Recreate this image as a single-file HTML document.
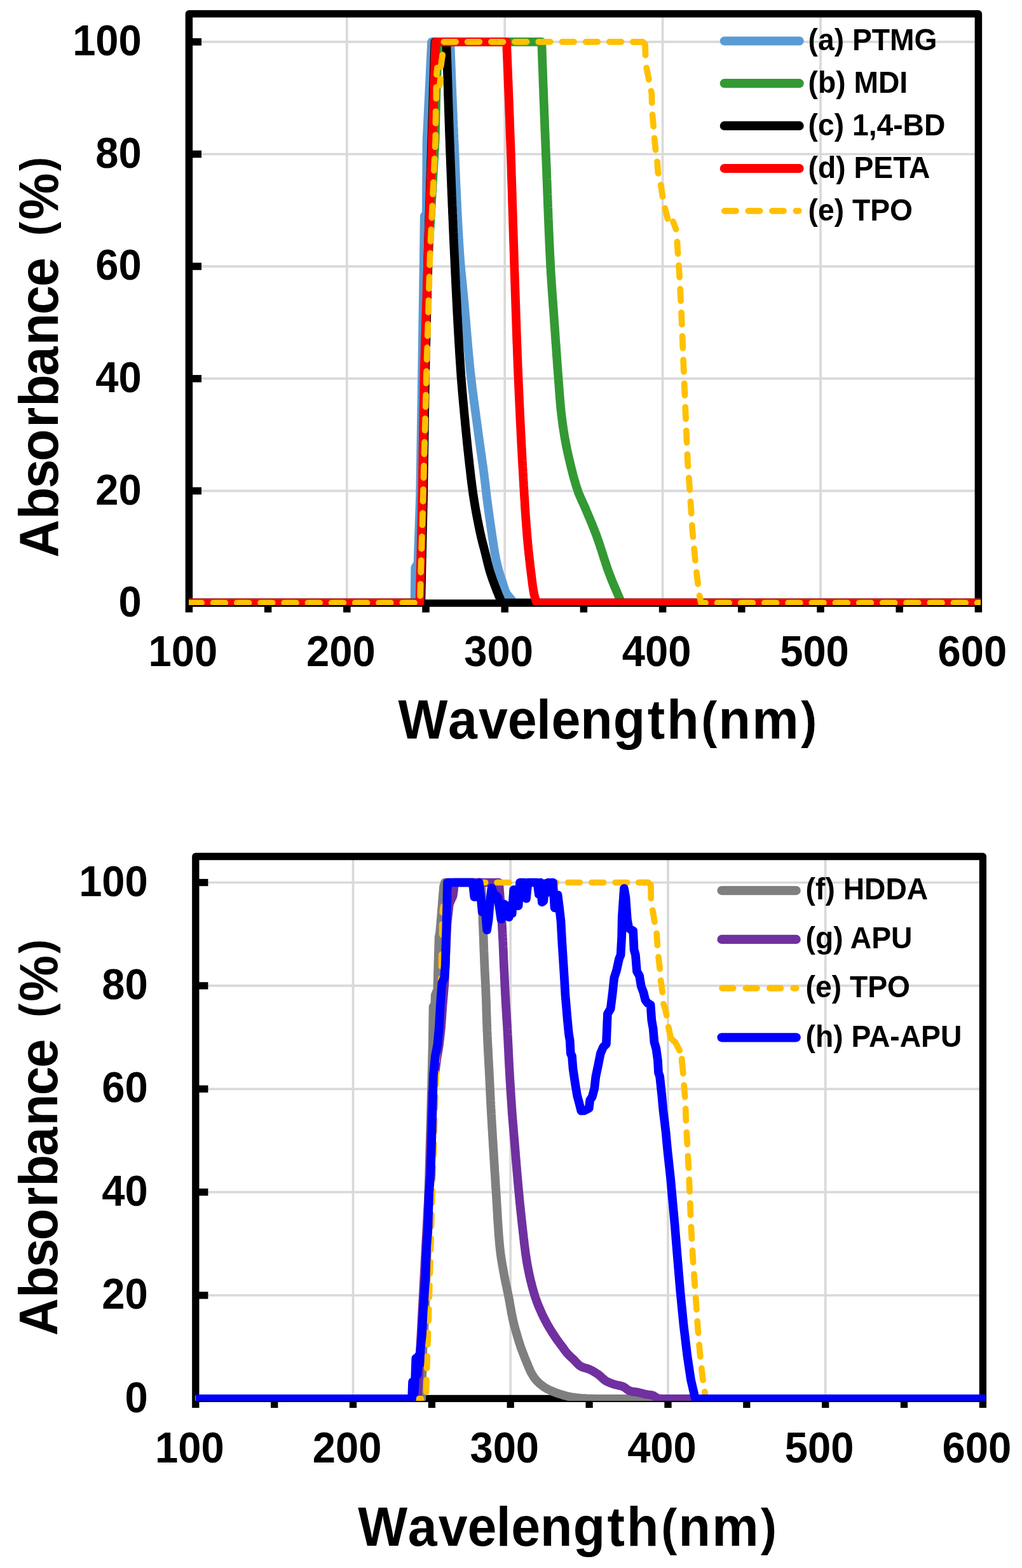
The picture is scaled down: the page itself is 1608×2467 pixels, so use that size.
<!DOCTYPE html>
<html lang="en">
<head>
<meta charset="utf-8">
<title>Absorbance spectra</title>
<style>
html,body{margin:0;padding:0;background:#fff;}
body{width:1608px;height:2467px;overflow:hidden;}
svg{display:block;}
text{white-space:pre;}
</style>
</head>
<body>
<svg width="1608" height="2467" viewBox="0 0 1608 2467">
<rect width="1608" height="2467" fill="#fff"/>
<g id="chart1">
<g stroke="#d9d9d9" stroke-width="3.7" fill="none">
<line x1="297.4" y1="772.3" x2="1539.4" y2="772.3"/>
<line x1="297.4" y1="595.7" x2="1539.4" y2="595.7"/>
<line x1="297.4" y1="419.1" x2="1539.4" y2="419.1"/>
<line x1="297.4" y1="242.5" x2="1539.4" y2="242.5"/>
<line x1="297.4" y1="65.9" x2="1539.4" y2="65.9"/>
<line x1="545.8" y1="21.8" x2="545.8" y2="948.9"/>
<line x1="794.2" y1="21.8" x2="794.2" y2="948.9"/>
<line x1="1042.6" y1="21.8" x2="1042.6" y2="948.9"/>
<line x1="1291.0" y1="21.8" x2="1291.0" y2="948.9"/>
</g>
<g stroke="#000" stroke-width="11.5" fill="none">
<path stroke-linejoin="round" d="M297.4,963.6 L297.4,21.8 L1539.4,21.8 L1539.4,963.6"/>
<line x1="297.4" y1="948.9" x2="1539.4" y2="948.9"/>
<line x1="421.6" y1="948.9" x2="421.6" y2="963.6"/>
<line x1="545.8" y1="948.9" x2="545.8" y2="963.6"/>
<line x1="670.0" y1="948.9" x2="670.0" y2="963.6"/>
<line x1="794.2" y1="948.9" x2="794.2" y2="963.6"/>
<line x1="918.4" y1="948.9" x2="918.4" y2="963.6"/>
<line x1="1042.6" y1="948.9" x2="1042.6" y2="963.6"/>
<line x1="1166.8" y1="948.9" x2="1166.8" y2="963.6"/>
<line x1="1291.0" y1="948.9" x2="1291.0" y2="963.6"/>
<line x1="1415.2" y1="948.9" x2="1415.2" y2="963.6"/>
<line x1="297.4" y1="772.3" x2="317.0" y2="772.3"/>
<line x1="297.4" y1="595.7" x2="317.0" y2="595.7"/>
<line x1="297.4" y1="419.1" x2="317.0" y2="419.1"/>
<line x1="297.4" y1="242.5" x2="317.0" y2="242.5"/>
<line x1="297.4" y1="65.9" x2="317.0" y2="65.9"/>
</g>
<clipPath id="clip1"><rect x="297" y="-19" width="1246" height="971"/></clipPath>
<g clip-path="url(#clip1)" fill="none" stroke-linejoin="round" stroke-linecap="butt">
<path d="M297.4,948.5 L652.5,948.5 L653.2,893.0 L657.5,886.0 L661.1,780.0 L664.2,580.0 L666.9,400.0 L667.7,340.0 L670.8,335.0 L671.6,220.0 L679.1,65.9 L708.4,65.9 L708.5,68.9 L708.6,71.9 L708.7,74.9 L708.8,77.9 L708.9,80.9 L709.0,83.9 L709.1,86.9 L709.2,89.8 L709.3,92.8 L709.4,95.8 L709.6,98.8 L709.7,101.8 L709.8,104.8 L709.9,107.8 L710.0,110.8 L710.1,113.8 L710.2,116.8 L710.3,119.8 L710.5,122.8 L710.6,125.8 L710.7,128.8 L710.8,131.8 L710.9,134.8 L711.0,137.7 L711.2,140.7 L711.3,143.7 L711.4,146.7 L711.5,149.7 L711.6,152.7 L711.8,155.7 L711.9,158.7 L712.0,161.7 L712.1,164.7 L712.3,167.7 L712.4,170.7 L712.5,173.7 L712.6,176.7 L712.8,179.6 L712.9,182.6 L713.0,185.6 L713.1,188.6 L713.3,191.6 L713.4,194.6 L713.5,197.6 L713.7,200.6 L713.8,203.6 L713.9,206.6 L714.0,209.6 L714.2,212.6 L714.3,215.6 L714.4,218.6 L714.6,221.5 L714.7,224.5 L714.8,227.5 L715.0,230.5 L715.1,233.5 L715.2,236.5 L715.3,239.5 L715.5,242.5 L715.6,245.5 L715.7,248.5 L715.9,251.5 L716.0,254.5 L716.1,257.5 L716.2,260.5 L716.4,263.5 L716.5,266.4 L716.6,269.4 L716.8,272.4 L716.9,275.4 L717.0,278.4 L717.1,281.4 L717.3,284.4 L717.4,287.4 L717.5,290.4 L717.7,293.4 L717.8,296.4 L717.9,299.4 L718.1,302.4 L718.2,305.4 L718.4,308.4 L718.5,311.3 L718.6,314.3 L718.8,317.3 L718.9,320.3 L719.1,323.3 L719.2,326.3 L719.4,329.3 L719.5,332.3 L719.7,335.3 L719.8,338.3 L720.0,341.3 L720.1,344.3 L720.3,347.3 L720.4,350.2 L720.6,353.2 L720.7,356.2 L720.9,359.2 L721.1,362.2 L721.3,365.2 L721.4,368.2 L721.6,371.2 L721.8,374.2 L721.9,377.2 L722.1,380.1 L722.3,383.1 L722.5,386.1 L722.7,389.1 L722.9,392.1 L723.1,395.1 L723.3,398.1 L723.5,401.1 L723.7,404.0 L723.9,407.0 L724.1,410.0 L724.4,413.0 L724.6,416.0 L724.9,419.0 L725.2,421.9 L725.4,424.9 L725.7,427.9 L726.0,430.9 L726.3,433.9 L726.6,436.9 L726.9,439.8 L727.2,442.8 L727.5,445.8 L727.8,448.8 L728.1,451.8 L728.4,454.8 L728.7,457.7 L728.9,460.7 L729.2,463.7 L729.5,466.7 L729.8,469.7 L730.1,472.6 L730.4,475.6 L730.6,478.6 L730.9,481.6 L731.2,484.6 L731.4,487.6 L731.7,490.5 L731.9,493.5 L732.2,496.5 L732.5,499.5 L732.7,502.5 L733.0,505.5 L733.2,508.5 L733.4,511.4 L733.7,514.4 L733.9,517.4 L734.2,520.4 L734.4,523.4 L734.7,526.4 L734.9,529.4 L735.2,532.3 L735.4,535.3 L735.7,538.3 L736.0,541.3 L736.2,544.3 L736.5,547.3 L736.7,550.3 L737.0,553.2 L737.3,556.2 L737.6,559.2 L737.8,562.2 L738.1,565.2 L738.4,568.1 L738.7,571.1 L739.0,574.1 L739.3,577.1 L739.6,580.1 L739.9,583.0 L740.2,586.0 L740.6,589.0 L740.9,592.0 L741.3,594.9 L741.6,597.9 L742.0,600.9 L742.3,603.9 L742.7,606.8 L743.0,609.8 L743.4,612.8 L743.8,615.8 L744.2,618.7 L744.6,621.7 L745.0,624.7 L745.3,627.6 L745.7,630.6 L746.1,633.6 L746.5,636.6 L746.9,639.5 L747.3,642.5 L747.7,645.5 L748.1,648.4 L748.5,651.4 L748.9,654.4 L749.3,657.3 L749.7,660.3 L750.1,663.3 L750.5,666.2 L750.9,669.2 L751.3,672.2 L751.7,675.2 L752.1,678.1 L752.5,681.1 L752.9,684.1 L753.3,687.0 L753.7,690.0 L754.1,693.0 L754.5,695.9 L755.0,698.9 L755.4,701.9 L755.8,704.8 L756.2,707.8 L756.6,710.8 L757.1,713.7 L757.5,716.7 L757.9,719.7 L758.3,722.6 L758.7,725.6 L759.2,728.6 L759.6,731.5 L760.0,734.5 L760.4,737.5 L760.8,740.4 L761.2,743.4 L761.6,746.4 L762.0,749.3 L762.3,752.3 L762.7,755.3 L763.1,758.3 L763.4,761.2 L763.8,764.2 L764.1,767.2 L764.5,770.2 L764.8,773.1 L765.1,776.1 L765.5,779.1 L765.9,782.1 L766.2,785.0 L766.6,788.0 L767.0,791.0 L767.4,793.9 L767.8,796.9 L768.2,799.9 L768.6,802.8 L769.0,805.8 L769.4,808.8 L769.8,811.7 L770.2,814.7 L770.7,817.7 L771.1,820.6 L771.5,823.6 L771.9,826.6 L772.4,829.5 L772.8,832.5 L773.2,835.5 L773.7,838.4 L774.1,841.4 L774.5,844.4 L775.0,847.3 L775.4,850.3 L775.8,853.3 L776.3,856.2 L776.7,859.2 L777.2,862.1 L777.7,865.1 L778.2,868.1 L778.7,871.0 L779.2,873.9 L779.8,876.9 L780.4,879.8 L781.0,882.8 L781.7,885.7 L782.3,888.6 L783.0,891.5 L783.8,894.4 L784.5,897.3 L785.3,900.2 L786.2,903.1 L787.2,905.9 L788.2,908.7 L789.1,911.6 L790.1,914.4 L791.0,917.3 L791.9,920.2 L792.8,923.1 L793.7,926.0 L794.7,928.8 L795.9,931.5 L797.2,934.1 L799.0,936.5 L800.9,938.8 L802.8,941.1 L804.6,943.6 L806.3,946.0 L808.0,948.5 L1545.0,948.5" stroke="#5b9bd5" stroke-width="13.7"/>
<path d="M297.4,948.5 L661.0,948.5 L665.0,780.0 L668.0,580.0 L674.3,400.0 L684.7,220.0 L686.3,150.0 L689.2,75.0 L690.0,65.9 L852.3,65.9 L852.4,68.9 L852.5,71.9 L852.6,74.9 L852.7,77.9 L852.8,80.9 L852.9,83.9 L853.0,86.9 L853.1,89.9 L853.2,92.9 L853.3,95.9 L853.4,98.9 L853.5,101.9 L853.6,104.9 L853.8,107.9 L853.9,110.8 L854.0,113.8 L854.1,116.8 L854.2,119.8 L854.3,122.8 L854.4,125.8 L854.5,128.8 L854.6,131.8 L854.7,134.8 L854.8,137.8 L855.0,140.8 L855.1,143.8 L855.2,146.8 L855.3,149.8 L855.4,152.8 L855.5,155.8 L855.6,158.8 L855.7,161.8 L855.9,164.8 L856.0,167.8 L856.1,170.8 L856.2,173.8 L856.3,176.8 L856.4,179.8 L856.5,182.8 L856.7,185.8 L856.8,188.8 L856.9,191.7 L857.0,194.7 L857.1,197.7 L857.2,200.7 L857.3,203.7 L857.5,206.7 L857.6,209.7 L857.7,212.7 L857.8,215.7 L857.9,218.7 L858.1,221.7 L858.2,224.7 L858.3,227.7 L858.4,230.7 L858.6,233.7 L858.7,236.7 L858.8,239.7 L858.9,242.7 L859.0,245.7 L859.2,248.7 L859.3,251.7 L859.4,254.7 L859.5,257.7 L859.6,260.7 L859.8,263.6 L859.9,266.6 L860.0,269.6 L860.1,272.6 L860.2,275.6 L860.3,278.6 L860.4,281.6 L860.6,284.6 L860.7,287.6 L860.8,290.6 L860.9,293.6 L861.0,296.6 L861.1,299.6 L861.2,302.6 L861.3,305.6 L861.5,308.6 L861.6,311.6 L861.7,314.6 L861.8,317.6 L861.9,320.6 L862.0,323.6 L862.1,326.6 L862.3,329.6 L862.4,332.6 L862.5,335.6 L862.6,338.6 L862.7,341.6 L862.8,344.6 L863.0,347.5 L863.1,350.5 L863.2,353.5 L863.3,356.5 L863.4,359.5 L863.6,362.5 L863.7,365.5 L863.8,368.5 L864.0,371.5 L864.1,374.5 L864.2,377.5 L864.3,380.5 L864.5,383.5 L864.6,386.5 L864.8,389.5 L864.9,392.5 L865.0,395.5 L865.2,398.5 L865.3,401.5 L865.5,404.5 L865.6,407.5 L865.8,410.4 L865.9,413.4 L866.1,416.4 L866.2,419.4 L866.4,422.4 L866.6,425.4 L866.7,428.4 L866.9,431.4 L867.1,434.4 L867.3,437.4 L867.5,440.4 L867.7,443.4 L867.9,446.4 L868.1,449.3 L868.3,452.3 L868.5,455.3 L868.7,458.3 L868.9,461.3 L869.1,464.3 L869.3,467.3 L869.6,470.3 L869.8,473.3 L870.0,476.3 L870.2,479.3 L870.4,482.3 L870.6,485.2 L870.9,488.2 L871.1,491.2 L871.3,494.2 L871.5,497.2 L871.7,500.2 L871.9,503.2 L872.1,506.2 L872.3,509.2 L872.5,512.2 L872.8,515.2 L873.0,518.1 L873.2,521.1 L873.4,524.1 L873.6,527.1 L873.8,530.1 L874.0,533.1 L874.2,536.1 L874.4,539.1 L874.7,542.1 L874.9,545.1 L875.1,548.1 L875.3,551.0 L875.5,554.0 L875.7,557.0 L875.9,560.0 L876.2,563.0 L876.4,566.0 L876.6,569.0 L876.8,572.0 L877.0,575.0 L877.2,578.0 L877.5,580.9 L877.7,583.9 L877.9,586.9 L878.1,589.9 L878.4,592.9 L878.6,595.9 L878.8,598.9 L879.0,601.9 L879.3,604.9 L879.5,607.9 L879.7,610.9 L879.9,613.8 L880.1,616.8 L880.4,619.8 L880.6,622.8 L880.8,625.8 L881.1,628.8 L881.3,631.8 L881.6,634.8 L881.9,637.8 L882.1,640.7 L882.4,643.7 L882.7,646.7 L883.1,649.7 L883.4,652.7 L883.8,655.6 L884.1,658.6 L884.5,661.6 L884.9,664.6 L885.3,667.5 L885.7,670.5 L886.2,673.5 L886.6,676.4 L887.1,679.4 L887.6,682.4 L888.0,685.3 L888.5,688.3 L889.0,691.2 L889.6,694.2 L890.1,697.1 L890.7,700.1 L891.3,703.0 L891.9,705.9 L892.5,708.9 L893.1,711.8 L893.8,714.8 L894.4,717.7 L895.1,720.6 L895.8,723.5 L896.5,726.4 L897.2,729.4 L897.9,732.3 L898.6,735.2 L899.3,738.1 L900.0,741.0 L900.8,743.9 L901.5,746.8 L902.3,749.7 L903.1,752.6 L903.9,755.5 L904.8,758.4 L905.6,761.3 L906.5,764.1 L907.4,767.0 L908.4,769.8 L909.3,772.7 L910.3,775.5 L911.4,778.2 L912.6,781.0 L913.8,783.7 L915.0,786.5 L916.3,789.2 L917.5,792.0 L918.8,794.7 L920.0,797.4 L921.2,800.2 L922.3,803.0 L923.5,805.7 L924.7,808.5 L925.8,811.3 L927.0,814.0 L928.2,816.8 L929.3,819.6 L930.5,822.3 L931.6,825.1 L932.7,827.9 L933.9,830.7 L935.0,833.4 L936.0,836.2 L937.1,839.0 L938.2,841.8 L939.2,844.6 L940.2,847.5 L941.2,850.3 L942.2,853.1 L943.1,856.0 L944.1,858.8 L945.0,861.7 L945.9,864.5 L946.9,867.4 L947.8,870.2 L948.7,873.1 L949.6,876.0 L950.5,878.8 L951.5,881.7 L952.4,884.5 L953.3,887.4 L954.3,890.2 L955.2,893.1 L956.2,895.9 L957.2,898.7 L958.3,901.5 L959.3,904.3 L960.4,907.1 L961.5,909.9 L962.6,912.7 L963.7,915.5 L964.9,918.2 L966.0,921.0 L967.2,923.8 L968.4,926.5 L969.6,929.3 L970.8,932.0 L971.9,934.8 L973.1,937.5 L974.3,940.3 L975.5,943.0 L976.8,945.8 L978.0,948.5 L1545.0,948.5" stroke="#339933" stroke-width="13.7"/>
<path d="M297.4,948.5 L662.3,948.5 L666.1,780.0 L669.3,580.0 L673.5,400.0 L679.3,220.0 L684.3,65.9 L702.2,65.9 L702.3,68.9 L702.5,71.9 L702.6,74.9 L702.7,77.9 L702.8,80.9 L702.9,83.9 L703.0,86.9 L703.1,89.9 L703.2,92.9 L703.3,95.9 L703.5,98.9 L703.6,101.9 L703.7,104.9 L703.8,107.9 L703.9,110.8 L704.0,113.8 L704.1,116.8 L704.2,119.8 L704.3,122.8 L704.4,125.8 L704.5,128.8 L704.6,131.8 L704.7,134.8 L704.8,137.8 L704.9,140.8 L704.9,143.8 L705.0,146.8 L705.1,149.8 L705.2,152.8 L705.3,155.8 L705.4,158.8 L705.5,161.8 L705.6,164.8 L705.7,167.8 L705.8,170.8 L705.9,173.8 L706.0,176.8 L706.1,179.8 L706.2,182.8 L706.3,185.8 L706.4,188.8 L706.5,191.8 L706.6,194.8 L706.7,197.8 L706.8,200.8 L706.9,203.8 L707.0,206.8 L707.1,209.8 L707.2,212.8 L707.3,215.7 L707.5,218.7 L707.6,221.7 L707.7,224.7 L707.8,227.7 L707.9,230.7 L708.0,233.7 L708.1,236.7 L708.2,239.7 L708.4,242.7 L708.5,245.7 L708.6,248.7 L708.7,251.7 L708.8,254.7 L708.9,257.7 L709.0,260.7 L709.2,263.7 L709.3,266.7 L709.4,269.7 L709.5,272.7 L709.6,275.7 L709.7,278.7 L709.9,281.7 L710.0,284.7 L710.1,287.7 L710.2,290.7 L710.3,293.7 L710.4,296.7 L710.6,299.7 L710.7,302.6 L710.8,305.6 L710.9,308.6 L711.1,311.6 L711.2,314.6 L711.3,317.6 L711.4,320.6 L711.5,323.6 L711.7,326.6 L711.8,329.6 L711.9,332.6 L712.0,335.6 L712.2,338.6 L712.3,341.6 L712.4,344.6 L712.6,347.6 L712.7,350.6 L712.8,353.6 L712.9,356.6 L713.1,359.6 L713.2,362.6 L713.3,365.6 L713.5,368.6 L713.6,371.6 L713.7,374.6 L713.9,377.6 L714.0,380.5 L714.1,383.5 L714.3,386.5 L714.4,389.5 L714.6,392.5 L714.7,395.5 L714.8,398.5 L715.0,401.5 L715.1,404.5 L715.3,407.5 L715.4,410.5 L715.5,413.5 L715.7,416.5 L715.8,419.5 L716.0,422.5 L716.1,425.5 L716.2,428.5 L716.4,431.5 L716.5,434.5 L716.7,437.5 L716.8,440.5 L716.9,443.5 L717.1,446.4 L717.2,449.4 L717.4,452.4 L717.5,455.4 L717.7,458.4 L717.8,461.4 L718.0,464.4 L718.1,467.4 L718.3,470.4 L718.4,473.4 L718.6,476.4 L718.7,479.4 L718.9,482.4 L719.0,485.4 L719.2,488.4 L719.3,491.4 L719.5,494.4 L719.7,497.4 L719.8,500.4 L720.0,503.4 L720.1,506.4 L720.3,509.3 L720.5,512.3 L720.6,515.3 L720.8,518.3 L721.0,521.3 L721.1,524.3 L721.3,527.3 L721.5,530.3 L721.7,533.3 L721.8,536.3 L722.0,539.3 L722.2,542.3 L722.4,545.3 L722.6,548.3 L722.7,551.3 L722.9,554.3 L723.1,557.2 L723.3,560.2 L723.5,563.2 L723.7,566.2 L723.9,569.2 L724.1,572.2 L724.3,575.2 L724.5,578.2 L724.7,581.2 L724.9,584.2 L725.1,587.2 L725.3,590.1 L725.5,593.1 L725.8,596.1 L726.0,599.1 L726.2,602.1 L726.5,605.1 L726.7,608.1 L727.0,611.1 L727.2,614.1 L727.5,617.1 L727.7,620.0 L728.0,623.0 L728.3,626.0 L728.5,629.0 L728.8,632.0 L729.1,635.0 L729.3,638.0 L729.6,641.0 L729.9,643.9 L730.2,646.9 L730.4,649.9 L730.7,652.9 L731.0,655.9 L731.3,658.9 L731.6,661.9 L731.8,664.8 L732.1,667.8 L732.4,670.8 L732.7,673.8 L733.0,676.8 L733.3,679.8 L733.6,682.7 L733.9,685.7 L734.2,688.7 L734.5,691.7 L734.8,694.7 L735.1,697.7 L735.4,700.6 L735.7,703.6 L736.0,706.6 L736.3,709.6 L736.7,712.6 L737.0,715.6 L737.3,718.5 L737.6,721.5 L738.0,724.5 L738.3,727.5 L738.6,730.5 L739.0,733.4 L739.3,736.4 L739.7,739.4 L740.0,742.4 L740.3,745.4 L740.7,748.3 L741.0,751.3 L741.4,754.3 L741.8,757.3 L742.1,760.2 L742.5,763.2 L742.9,766.2 L743.3,769.2 L743.7,772.1 L744.1,775.1 L744.5,778.1 L745.0,781.0 L745.4,784.0 L745.9,787.0 L746.4,789.9 L746.9,792.9 L747.4,795.8 L747.9,798.8 L748.4,801.8 L748.9,804.7 L749.5,807.7 L750.0,810.6 L750.6,813.6 L751.1,816.5 L751.7,819.5 L752.3,822.4 L752.9,825.3 L753.5,828.3 L754.1,831.2 L754.7,834.1 L755.3,837.1 L756.0,840.0 L756.6,842.9 L757.3,845.8 L758.0,848.8 L758.7,851.7 L759.5,854.6 L760.2,857.5 L761.0,860.4 L761.8,863.3 L762.5,866.2 L763.3,869.1 L764.0,872.0 L764.7,874.9 L765.4,877.8 L766.1,880.7 L766.8,883.7 L767.5,886.6 L768.3,889.5 L769.0,892.4 L769.8,895.3 L770.6,898.2 L771.5,901.0 L772.4,903.9 L773.4,906.7 L774.3,909.6 L775.3,912.4 L776.4,915.2 L777.4,918.0 L778.4,920.8 L779.5,923.6 L780.6,926.5 L781.6,929.2 L782.8,932.0 L783.9,934.8 L785.0,937.6 L786.2,940.3 L787.4,943.1 L788.7,945.8 L790.0,948.5 L1545.0,948.5" stroke="#000000" stroke-width="13.7"/>
<path d="M297.4,948.5 L660.5,948.5 L664.4,780.0 L667.7,580.0 L673.5,400.0 L680.2,220.0 L685.4,65.9 L797.0,65.9 L797.1,68.9 L797.3,71.9 L797.4,74.9 L797.5,77.9 L797.6,80.9 L797.8,83.9 L797.9,86.9 L798.0,89.9 L798.1,92.9 L798.3,95.9 L798.4,98.9 L798.5,101.9 L798.6,104.9 L798.7,107.8 L798.9,110.8 L799.0,113.8 L799.1,116.8 L799.2,119.8 L799.3,122.8 L799.5,125.8 L799.6,128.8 L799.7,131.8 L799.8,134.8 L799.9,137.8 L800.1,140.8 L800.2,143.8 L800.3,146.8 L800.4,149.8 L800.5,152.8 L800.6,155.8 L800.8,158.8 L800.9,161.8 L801.0,164.8 L801.1,167.8 L801.2,170.8 L801.3,173.8 L801.4,176.8 L801.5,179.8 L801.7,182.8 L801.8,185.8 L801.9,188.8 L802.0,191.7 L802.1,194.7 L802.2,197.7 L802.3,200.7 L802.4,203.7 L802.5,206.7 L802.6,209.7 L802.7,212.7 L802.8,215.7 L803.0,218.7 L803.1,221.7 L803.2,224.7 L803.3,227.7 L803.4,230.7 L803.5,233.7 L803.6,236.7 L803.7,239.7 L803.8,242.7 L803.9,245.7 L804.0,248.7 L804.1,251.7 L804.2,254.7 L804.3,257.7 L804.4,260.7 L804.5,263.7 L804.6,266.7 L804.6,269.7 L804.7,272.7 L804.8,275.7 L804.9,278.7 L805.0,281.7 L805.1,284.7 L805.2,287.7 L805.3,290.7 L805.4,293.6 L805.5,296.6 L805.6,299.6 L805.7,302.6 L805.8,305.6 L805.9,308.6 L805.9,311.6 L806.0,314.6 L806.1,317.6 L806.2,320.6 L806.3,323.6 L806.4,326.6 L806.5,329.6 L806.6,332.6 L806.7,335.6 L806.8,338.6 L806.9,341.6 L807.0,344.6 L807.0,347.6 L807.1,350.6 L807.2,353.6 L807.3,356.6 L807.4,359.6 L807.5,362.6 L807.6,365.6 L807.7,368.6 L807.8,371.6 L807.9,374.6 L808.0,377.6 L808.1,380.6 L808.2,383.6 L808.3,386.6 L808.4,389.6 L808.5,392.6 L808.6,395.6 L808.7,398.6 L808.8,401.6 L808.8,404.5 L808.9,407.5 L809.0,410.5 L809.1,413.5 L809.2,416.5 L809.3,419.5 L809.4,422.5 L809.5,425.5 L809.6,428.5 L809.7,431.5 L809.8,434.5 L809.9,437.5 L810.0,440.5 L810.1,443.5 L810.2,446.5 L810.3,449.5 L810.4,452.5 L810.5,455.5 L810.6,458.5 L810.7,461.5 L810.8,464.5 L810.9,467.5 L811.0,470.5 L811.1,473.5 L811.2,476.5 L811.3,479.5 L811.4,482.5 L811.5,485.5 L811.6,488.5 L811.7,491.5 L811.8,494.5 L811.9,497.5 L812.0,500.5 L812.1,503.5 L812.2,506.5 L812.3,509.5 L812.4,512.4 L812.5,515.4 L812.6,518.4 L812.7,521.4 L812.8,524.4 L812.9,527.4 L813.0,530.4 L813.1,533.4 L813.2,536.4 L813.3,539.4 L813.5,542.4 L813.6,545.4 L813.7,548.4 L813.8,551.4 L813.9,554.4 L814.0,557.4 L814.1,560.4 L814.2,563.4 L814.4,566.4 L814.5,569.4 L814.6,572.4 L814.7,575.4 L814.8,578.4 L815.0,581.4 L815.1,584.4 L815.2,587.4 L815.3,590.4 L815.5,593.4 L815.6,596.4 L815.7,599.3 L815.8,602.3 L816.0,605.3 L816.1,608.3 L816.2,611.3 L816.4,614.3 L816.5,617.3 L816.6,620.3 L816.8,623.3 L816.9,626.3 L817.0,629.3 L817.2,632.3 L817.3,635.3 L817.4,638.3 L817.6,641.3 L817.7,644.3 L817.9,647.3 L818.0,650.3 L818.1,653.3 L818.3,656.3 L818.4,659.3 L818.6,662.3 L818.7,665.3 L818.9,668.2 L819.0,671.2 L819.2,674.2 L819.3,677.2 L819.5,680.2 L819.6,683.2 L819.8,686.2 L819.9,689.2 L820.1,692.2 L820.2,695.2 L820.4,698.2 L820.5,701.2 L820.7,704.2 L820.9,707.2 L821.0,710.2 L821.2,713.2 L821.3,716.2 L821.5,719.2 L821.7,722.2 L821.8,725.1 L822.0,728.1 L822.2,731.1 L822.3,734.1 L822.5,737.1 L822.7,740.1 L822.8,743.1 L823.0,746.1 L823.2,749.1 L823.3,752.1 L823.5,755.1 L823.7,758.1 L823.9,761.1 L824.0,764.1 L824.2,767.1 L824.4,770.1 L824.6,773.0 L824.7,776.0 L824.9,779.0 L825.1,782.0 L825.3,785.0 L825.5,788.0 L825.7,791.0 L825.8,794.0 L826.0,797.0 L826.2,800.0 L826.4,803.0 L826.6,806.0 L826.8,809.0 L827.0,812.0 L827.2,815.0 L827.4,817.9 L827.7,820.9 L827.9,823.9 L828.1,826.9 L828.3,829.9 L828.6,832.9 L828.8,835.9 L829.0,838.9 L829.3,841.9 L829.5,844.8 L829.8,847.8 L830.1,850.8 L830.3,853.8 L830.6,856.8 L830.9,859.8 L831.2,862.8 L831.5,865.7 L831.8,868.7 L832.1,871.7 L832.5,874.7 L832.8,877.7 L833.1,880.7 L833.5,883.6 L833.8,886.6 L834.1,889.6 L834.5,892.6 L834.9,895.6 L835.2,898.5 L835.6,901.5 L836.0,904.5 L836.3,907.5 L836.7,910.4 L837.1,913.4 L837.4,916.4 L837.8,919.4 L838.2,922.4 L838.7,925.3 L839.1,928.3 L839.7,931.2 L840.2,934.2 L840.9,937.1 L841.7,940.0 L842.6,942.8 L843.6,945.7 L844.6,948.5 L1545.0,948.5" stroke="#ff0000" stroke-width="13.7"/>
<path d="M297.4,948.5 L660.8,948.5" stroke="#ffc000" stroke-width="9.7" stroke-dasharray="18.7 18.5" stroke-dashoffset="-1.0" stroke-linecap="round"/>
<path d="M660.8,948.5 L661.1,935.0 L665.8,780.0 L671.2,580.0 L676.6,400.0 L685.1,220.0 L685.6,173.0" stroke="#ffc000" stroke-width="9.7" stroke-dasharray="18.7 18.5" stroke-dashoffset="26.2" stroke-linecap="round"/>
<path d="M698.4,65.9 L1011.0,65.9" stroke="#ffc000" stroke-width="9.7" stroke-dasharray="18.7 18.5" stroke-dashoffset="0.0" stroke-linecap="round"/>
<path d="M1017.2,106.7 L1020.5,123.2 L1023.8,140.5 L1025.3,147.0 L1025.7,161.0 L1026.5,180.6 L1028.1,198.0 L1029.6,216.9 L1031.4,235.1 L1034.1,254.7 L1035.3,271.4 L1039.8,291.0 L1042.4,308.4 L1046.2,327.3 L1050.4,344.0" stroke="#ffc000" stroke-width="9.7" stroke-dasharray="18.7 18.5" stroke-dashoffset="0.0" stroke-linecap="round"/>
<path d="M1065.4,380.4 L1065.9,388.8 L1068.6,426.9 L1070.7,464.1 L1072.4,500.0 L1075.8,582.5 L1078.9,656.8 L1082.0,727.0 L1085.1,768.2 L1087.2,800.0 L1089.4,834.2 L1093.3,875.9 L1097.2,911.5 L1100.6,937.8 L1102.9,948.5 L1545.0,948.5" stroke="#ffc000" stroke-width="9.7" stroke-dasharray="18.7 18.5" stroke-dashoffset="0.0" stroke-linecap="round"/>
<path d="M686.3,155.0 L686.3,137.4 M691.7,134.4 L693.0,124.2 M686.9,117.3 L688.0,106.6 M693.6,104.6 L696.2,86.3 M996.0,65.9 L1011.0,65.9 L1015.0,69.5 L1015.5,86.8 M1059.0,348.6 L1063.6,360.7" stroke="#ffc000" stroke-width="9.7" stroke-linecap="round"/>
</g>
<g font-family="'Liberation Sans', Arial, Helvetica, sans-serif" font-weight="bold" fill="#000">
<line x1="1139.8" y1="64.5" x2="1257.6" y2="64.5" stroke="#5b9bd5" stroke-width="14.2" stroke-linecap="round"/>
<text transform="translate(1271.60,79.30) scale(0.9880,1.0200)" font-size="46.8">(a) PTMG</text>
<line x1="1139.8" y1="131.2" x2="1257.6" y2="131.2" stroke="#339933" stroke-width="14.2" stroke-linecap="round"/>
<text transform="translate(1271.60,146.00) scale(0.9880,1.0200)" font-size="46.8">(b) MDI</text>
<line x1="1139.8" y1="197.9" x2="1257.6" y2="197.9" stroke="#000000" stroke-width="14.2" stroke-linecap="round"/>
<text transform="translate(1271.60,212.70) scale(0.9880,1.0200)" font-size="46.8">(c) 1,4-BD</text>
<line x1="1139.8" y1="265" x2="1257.6" y2="265" stroke="#ff0000" stroke-width="14.2" stroke-linecap="round"/>
<text transform="translate(1271.60,279.80) scale(0.9880,1.0200)" font-size="46.8">(d) PETA</text>
<line x1="1139.9" y1="331.8" x2="1256.7" y2="331.8" stroke="#ffc000" stroke-width="9.8" stroke-dasharray="18.1 19.4" stroke-linecap="round"/>
<text transform="translate(1271.60,346.60) scale(0.9880,1.0200)" font-size="46.8">(e) TPO</text>
</g>
<g font-family="'Liberation Sans', Arial, Helvetica, sans-serif" font-weight="bold" fill="#000">
<text transform="translate(287.90,1048.10) scale(0.9680,1.0120)" font-size="67.3" text-anchor="middle">100</text>
<text transform="translate(536.30,1048.10) scale(0.9680,1.0120)" font-size="67.3" text-anchor="middle">200</text>
<text transform="translate(784.70,1048.10) scale(0.9680,1.0120)" font-size="67.3" text-anchor="middle">300</text>
<text transform="translate(1033.10,1048.10) scale(0.9680,1.0120)" font-size="67.3" text-anchor="middle">400</text>
<text transform="translate(1281.50,1048.10) scale(0.9680,1.0120)" font-size="67.3" text-anchor="middle">500</text>
<text transform="translate(1529.90,1048.10) scale(0.9680,1.0120)" font-size="67.3" text-anchor="middle">600</text>
<text transform="translate(222.80,970.10) scale(0.9680,1.0120)" font-size="67.3" text-anchor="end">0</text>
<text transform="translate(222.80,793.50) scale(0.9680,1.0120)" font-size="67.3" text-anchor="end">20</text>
<text transform="translate(222.80,616.90) scale(0.9680,1.0120)" font-size="67.3" text-anchor="end">40</text>
<text transform="translate(222.80,440.30) scale(0.9680,1.0120)" font-size="67.3" text-anchor="end">60</text>
<text transform="translate(222.80,263.70) scale(0.9680,1.0120)" font-size="67.3" text-anchor="end">80</text>
<text transform="translate(222.80,87.10) scale(0.9680,1.0120)" font-size="67.3" text-anchor="end">100</text>
</g>
<g font-family="'Liberation Sans', Arial, Helvetica, sans-serif" font-weight="bold" fill="#000">
<text transform="translate(0.00,1162.20) scale(0.9500,1.0000)" font-size="86.9"><tspan x="659.52 742.18 792.70 840.68 888.50 913.10 961.39 1015.64 1072.37 1104.38" y="0">Wavelength</tspan><tspan x="1161.44" y="-2.6" font-size="79">(</tspan><tspan x="1190.13 1245.62" y="0">nm</tspan><tspan x="1326.56" y="-2.6" font-size="79">)</tspan></text>
<text transform="translate(91.00,900.00) rotate(-90) scale(0.9500,1.0000)" font-size="86.9"><tspan x="23.95 87.43 138.51 183.56 239.10 273.85 325.02 375.50 426.46 472.57 520.90" y="0">Absorbance </tspan><tspan x="556.95" y="-9.6" font-size="70">(</tspan><tspan x="583.53" y="0">%</tspan><tspan x="664.26" y="-9.6" font-size="70">)</tspan></text>
</g>
</g>
<g id="chart2">
<g stroke="#d9d9d9" stroke-width="3.7" fill="none">
<line x1="307.8" y1="2038.0" x2="1546.4" y2="2038.0"/>
<line x1="307.8" y1="1875.6" x2="1546.4" y2="1875.6"/>
<line x1="307.8" y1="1713.3" x2="1546.4" y2="1713.3"/>
<line x1="307.8" y1="1550.9" x2="1546.4" y2="1550.9"/>
<line x1="307.8" y1="1388.5" x2="1546.4" y2="1388.5"/>
<line x1="555.5" y1="1347.5" x2="555.5" y2="2200.4"/>
<line x1="803.2" y1="1347.5" x2="803.2" y2="2200.4"/>
<line x1="1051.0" y1="1347.5" x2="1051.0" y2="2200.4"/>
<line x1="1298.7" y1="1347.5" x2="1298.7" y2="2200.4"/>
</g>
<g stroke="#000" stroke-width="11.3" fill="none">
<path stroke-linejoin="round" d="M307.8,2215.1 L307.8,1347.5 L1546.4,1347.5 L1546.4,2215.1"/>
<line x1="307.8" y1="2200.4" x2="1546.4" y2="2200.4"/>
<line x1="431.7" y1="2200.4" x2="431.7" y2="2215.1"/>
<line x1="555.5" y1="2200.4" x2="555.5" y2="2215.1"/>
<line x1="679.4" y1="2200.4" x2="679.4" y2="2215.1"/>
<line x1="803.2" y1="2200.4" x2="803.2" y2="2215.1"/>
<line x1="927.1" y1="2200.4" x2="927.1" y2="2215.1"/>
<line x1="1051.0" y1="2200.4" x2="1051.0" y2="2215.1"/>
<line x1="1174.8" y1="2200.4" x2="1174.8" y2="2215.1"/>
<line x1="1298.7" y1="2200.4" x2="1298.7" y2="2215.1"/>
<line x1="1422.5" y1="2200.4" x2="1422.5" y2="2215.1"/>
<line x1="307.8" y1="2038.0" x2="327.4" y2="2038.0"/>
<line x1="307.8" y1="1875.6" x2="327.4" y2="1875.6"/>
<line x1="307.8" y1="1713.3" x2="327.4" y2="1713.3"/>
<line x1="307.8" y1="1550.9" x2="327.4" y2="1550.9"/>
<line x1="307.8" y1="1388.5" x2="327.4" y2="1388.5"/>
</g>
<clipPath id="clip2"><rect x="307" y="1307" width="1243" height="897"/></clipPath>
<g clip-path="url(#clip2)" fill="none" stroke-linejoin="round" stroke-linecap="butt">
<path d="M307.8,2200.8 L662.0,2200.8 L663.3,2201.0 L665.4,2122.0 L668.5,2070.0 L672.0,1960.0 L676.0,1820.0 L678.0,1750.0 L680.7,1643.8 L681.5,1584.0 L684.2,1579.8 L684.8,1565.4 L688.3,1557.1 L689.3,1520.0 L690.6,1474.5 L692.0,1468.0 L698.0,1395.0 L700.0,1388.5 L757.2,1388.5 L757.3,1391.5 L757.4,1394.5 L757.6,1397.5 L757.7,1400.5 L757.8,1403.4 L757.9,1406.4 L758.1,1409.4 L758.2,1412.4 L758.3,1415.4 L758.4,1418.4 L758.5,1421.4 L758.7,1424.4 L758.8,1427.4 L758.9,1430.3 L759.0,1433.3 L759.1,1436.3 L759.3,1439.3 L759.4,1442.3 L759.5,1445.3 L759.6,1448.3 L759.7,1451.3 L759.8,1454.2 L760.0,1457.2 L760.1,1460.2 L760.2,1463.2 L760.3,1466.2 L760.4,1469.2 L760.6,1472.2 L760.7,1475.2 L760.8,1478.2 L760.9,1481.1 L761.0,1484.1 L761.1,1487.1 L761.2,1490.1 L761.3,1493.1 L761.4,1496.1 L761.6,1499.1 L761.7,1502.1 L761.8,1505.1 L761.9,1508.0 L762.0,1511.0 L762.1,1514.0 L762.3,1517.0 L762.4,1520.0 L762.5,1523.0 L762.7,1526.0 L762.8,1529.0 L763.0,1532.0 L763.1,1534.9 L763.3,1537.9 L763.4,1540.9 L763.6,1543.9 L763.7,1546.9 L763.9,1549.9 L764.0,1552.9 L764.2,1555.9 L764.3,1558.8 L764.4,1561.8 L764.5,1564.8 L764.7,1567.8 L764.8,1570.8 L764.9,1573.8 L765.0,1576.8 L765.1,1579.8 L765.2,1582.8 L765.2,1585.7 L765.3,1588.7 L765.4,1591.7 L765.5,1594.7 L765.6,1597.7 L765.7,1600.7 L765.8,1603.7 L765.9,1606.7 L766.0,1609.7 L766.1,1612.6 L766.2,1615.6 L766.3,1618.6 L766.4,1621.6 L766.6,1624.6 L766.7,1627.6 L766.8,1630.6 L767.0,1633.6 L767.1,1636.6 L767.2,1639.5 L767.4,1642.5 L767.5,1645.5 L767.7,1648.5 L767.8,1651.5 L768.0,1654.5 L768.2,1657.5 L768.3,1660.5 L768.5,1663.4 L768.6,1666.4 L768.8,1669.4 L768.9,1672.4 L769.1,1675.4 L769.3,1678.4 L769.4,1681.4 L769.6,1684.3 L769.7,1687.3 L769.9,1690.3 L770.0,1693.3 L770.2,1696.3 L770.3,1699.3 L770.5,1702.3 L770.6,1705.3 L770.7,1708.2 L770.9,1711.2 L771.0,1714.2 L771.2,1717.2 L771.3,1720.2 L771.5,1723.2 L771.6,1726.2 L771.8,1729.2 L771.9,1732.1 L772.1,1735.1 L772.2,1738.1 L772.4,1741.1 L772.5,1744.1 L772.7,1747.1 L772.9,1750.1 L773.0,1753.1 L773.2,1756.0 L773.4,1759.0 L773.5,1762.0 L773.7,1765.0 L773.9,1768.0 L774.1,1771.0 L774.2,1774.0 L774.4,1776.9 L774.6,1779.9 L774.8,1782.9 L774.9,1785.9 L775.1,1788.9 L775.3,1791.9 L775.5,1794.9 L775.7,1797.8 L775.8,1800.8 L776.0,1803.8 L776.2,1806.8 L776.4,1809.8 L776.6,1812.8 L776.8,1815.8 L776.9,1818.7 L777.1,1821.7 L777.3,1824.7 L777.5,1827.7 L777.7,1830.7 L777.9,1833.7 L778.0,1836.7 L778.2,1839.6 L778.4,1842.6 L778.6,1845.6 L778.8,1848.6 L779.0,1851.6 L779.2,1854.6 L779.4,1857.5 L779.5,1860.5 L779.7,1863.5 L779.9,1866.5 L780.1,1869.5 L780.3,1872.5 L780.5,1875.5 L780.7,1878.4 L780.9,1881.4 L781.1,1884.4 L781.3,1887.4 L781.4,1890.4 L781.6,1893.4 L781.8,1896.4 L782.0,1899.4 L782.1,1902.3 L782.3,1905.3 L782.5,1908.3 L782.7,1911.3 L782.8,1914.3 L783.0,1917.3 L783.2,1920.3 L783.4,1923.3 L783.6,1926.3 L783.8,1929.2 L784.0,1932.2 L784.2,1935.2 L784.4,1938.2 L784.6,1941.2 L784.8,1944.2 L785.1,1947.1 L785.3,1950.1 L785.6,1953.1 L785.8,1956.1 L786.1,1959.0 L786.4,1962.0 L786.7,1965.0 L787.0,1967.9 L787.4,1970.9 L787.8,1973.9 L788.2,1976.8 L788.6,1979.8 L789.1,1982.7 L789.6,1985.7 L790.1,1988.6 L790.6,1991.6 L791.2,1994.5 L791.7,1997.5 L792.2,2000.4 L792.8,2003.4 L793.3,2006.3 L793.8,2009.3 L794.4,2012.2 L795.0,2015.1 L795.6,2018.1 L796.2,2021.0 L796.9,2023.9 L797.5,2026.8 L798.1,2029.8 L798.7,2032.7 L799.3,2035.6 L799.9,2038.6 L800.5,2041.5 L801.0,2044.4 L801.6,2047.4 L802.1,2050.3 L802.6,2053.3 L803.1,2056.2 L803.7,2059.2 L804.2,2062.1 L804.7,2065.1 L805.3,2068.0 L805.9,2070.9 L806.5,2073.8 L807.1,2076.8 L807.8,2079.7 L808.5,2082.6 L809.2,2085.5 L810.0,2088.4 L810.8,2091.3 L811.6,2094.2 L812.4,2097.0 L813.2,2099.9 L814.1,2102.8 L814.9,2105.7 L815.8,2108.5 L816.7,2111.4 L817.6,2114.2 L818.6,2117.0 L819.5,2119.9 L820.5,2122.7 L821.6,2125.5 L822.6,2128.3 L823.7,2131.1 L824.8,2133.9 L825.9,2136.7 L827.0,2139.4 L828.2,2142.2 L829.3,2145.0 L830.5,2147.8 L831.6,2150.7 L832.9,2153.5 L834.1,2156.2 L835.4,2159.0 L836.8,2161.6 L838.3,2164.1 L839.8,2166.5 L841.5,2168.8 L843.4,2171.1 L845.4,2173.3 L847.6,2175.5 L849.9,2177.6 L852.3,2179.5 L854.7,2181.3 L857.2,2183.0 L859.6,2184.5 L862.2,2185.9 L864.9,2187.2 L867.7,2188.4 L870.5,2189.6 L873.3,2190.7 L876.2,2191.7 L879.0,2192.7 L881.8,2193.6 L884.7,2194.5 L887.6,2195.4 L890.5,2196.2 L893.4,2196.9 L896.3,2197.6 L899.2,2198.1 L902.2,2198.5 L905.1,2198.9 L908.1,2199.2 L911.1,2199.5 L914.1,2199.8 L917.1,2200.0 L920.1,2200.2 L923.0,2200.4 L926.0,2200.5 L929.0,2200.6 L932.0,2200.7 L935.0,2200.8 L1552.0,2200.8" stroke="#7f7f7f" stroke-width="13.7"/>
<path d="M307.8,2200.8 L656.0,2200.8 L657.0,2201.0 L663.5,2080.0 L670.0,1960.0 L676.0,1850.0 L680.0,1720.0 L684.0,1691.0 L688.0,1661.0 L691.0,1644.0 L694.0,1617.0 L696.5,1582.0 L699.5,1547.0 L700.5,1520.0 L703.5,1453.0 L707.0,1422.0 L712.5,1410.0 L714.0,1400.0 L714.3,1388.5 L785.0,1388.5 L785.3,1391.5 L785.5,1394.5 L785.8,1397.5 L786.0,1400.4 L786.2,1403.4 L786.5,1406.4 L786.7,1409.4 L786.9,1412.4 L787.2,1415.4 L787.4,1418.3 L787.6,1421.3 L787.8,1424.3 L788.0,1427.3 L788.3,1430.3 L788.5,1433.3 L788.7,1436.3 L788.9,1439.2 L789.1,1442.2 L789.2,1445.2 L789.4,1448.2 L789.6,1451.2 L789.8,1454.2 L790.0,1457.2 L790.1,1460.2 L790.3,1463.1 L790.5,1466.1 L790.6,1469.1 L790.8,1472.1 L790.9,1475.1 L791.1,1478.1 L791.2,1481.1 L791.4,1484.1 L791.5,1487.1 L791.6,1490.1 L791.8,1493.0 L791.9,1496.0 L792.0,1499.0 L792.1,1502.0 L792.2,1505.0 L792.4,1508.0 L792.5,1511.0 L792.6,1514.0 L792.8,1517.0 L792.9,1520.0 L793.0,1522.9 L793.2,1525.9 L793.3,1528.9 L793.5,1531.9 L793.6,1534.9 L793.7,1537.9 L793.9,1540.9 L794.0,1543.9 L794.2,1546.9 L794.3,1549.9 L794.4,1552.8 L794.6,1555.8 L794.7,1558.8 L794.9,1561.8 L795.0,1564.8 L795.2,1567.8 L795.4,1570.8 L795.5,1573.8 L795.7,1576.8 L795.9,1579.8 L796.0,1582.7 L796.2,1585.7 L796.4,1588.7 L796.6,1591.7 L796.8,1594.7 L797.0,1597.7 L797.1,1600.7 L797.3,1603.7 L797.5,1606.6 L797.7,1609.6 L797.9,1612.6 L798.1,1615.6 L798.2,1618.6 L798.4,1621.6 L798.6,1624.6 L798.7,1627.6 L798.9,1630.5 L799.0,1633.5 L799.2,1636.5 L799.3,1639.5 L799.5,1642.5 L799.6,1645.5 L799.8,1648.5 L799.9,1651.5 L800.1,1654.5 L800.2,1657.5 L800.3,1660.4 L800.5,1663.4 L800.6,1666.4 L800.8,1669.4 L800.9,1672.4 L801.1,1675.4 L801.2,1678.4 L801.4,1681.4 L801.6,1684.4 L801.7,1687.4 L801.9,1690.3 L802.1,1693.3 L802.2,1696.3 L802.4,1699.3 L802.6,1702.3 L802.8,1705.3 L803.0,1708.3 L803.1,1711.3 L803.3,1714.2 L803.5,1717.2 L803.7,1720.2 L803.9,1723.2 L804.1,1726.2 L804.3,1729.2 L804.5,1732.2 L804.7,1735.2 L804.9,1738.1 L805.1,1741.1 L805.3,1744.1 L805.5,1747.1 L805.7,1750.1 L805.9,1753.1 L806.2,1756.1 L806.4,1759.0 L806.6,1762.0 L806.9,1765.0 L807.1,1768.0 L807.4,1771.0 L807.6,1774.0 L807.9,1776.9 L808.1,1779.9 L808.4,1782.9 L808.6,1785.9 L808.9,1788.9 L809.1,1791.9 L809.4,1794.8 L809.6,1797.8 L809.9,1800.8 L810.1,1803.8 L810.4,1806.8 L810.6,1809.8 L810.9,1812.7 L811.1,1815.7 L811.3,1818.7 L811.6,1821.7 L811.8,1824.7 L812.1,1827.7 L812.3,1830.6 L812.6,1833.6 L812.8,1836.6 L813.1,1839.6 L813.3,1842.6 L813.6,1845.5 L813.8,1848.5 L814.1,1851.5 L814.4,1854.5 L814.6,1857.5 L814.9,1860.5 L815.2,1863.4 L815.4,1866.4 L815.7,1869.4 L816.0,1872.4 L816.3,1875.4 L816.6,1878.3 L816.8,1881.3 L817.1,1884.3 L817.4,1887.3 L817.7,1890.3 L818.0,1893.2 L818.3,1896.2 L818.6,1899.2 L818.9,1902.2 L819.2,1905.1 L819.5,1908.1 L819.9,1911.1 L820.2,1914.1 L820.5,1917.1 L820.8,1920.0 L821.1,1923.0 L821.5,1926.0 L821.8,1929.0 L822.1,1931.9 L822.5,1934.9 L822.8,1937.9 L823.1,1940.9 L823.5,1943.8 L823.8,1946.8 L824.2,1949.8 L824.5,1952.8 L824.8,1955.8 L825.2,1958.7 L825.6,1961.7 L826.0,1964.7 L826.3,1967.6 L826.7,1970.6 L827.1,1973.6 L827.6,1976.5 L828.0,1979.5 L828.5,1982.4 L828.9,1985.4 L829.4,1988.3 L830.0,1991.3 L830.5,1994.2 L831.1,1997.2 L831.7,2000.1 L832.3,2003.0 L832.9,2006.0 L833.6,2008.9 L834.2,2011.8 L834.9,2014.7 L835.7,2017.7 L836.4,2020.6 L837.1,2023.5 L837.9,2026.4 L838.7,2029.2 L839.5,2032.1 L840.4,2035.0 L841.2,2037.8 L842.1,2040.7 L843.1,2043.5 L844.1,2046.3 L845.1,2049.1 L846.2,2051.9 L847.3,2054.7 L848.5,2057.5 L849.7,2060.3 L850.9,2063.0 L852.1,2065.7 L853.3,2068.4 L854.6,2071.1 L856.0,2073.8 L857.3,2076.5 L858.8,2079.1 L860.2,2081.8 L861.6,2084.4 L863.1,2087.0 L864.6,2089.6 L866.2,2092.1 L867.7,2094.7 L869.3,2097.2 L871.0,2099.7 L872.6,2102.2 L874.3,2104.7 L876.0,2107.2 L877.7,2109.6 L879.5,2112.0 L881.3,2114.4 L883.1,2116.8 L884.9,2119.2 L886.7,2121.6 L888.4,2124.1 L890.2,2126.5 L892.1,2128.8 L894.1,2131.0 L896.2,2133.1 L898.4,2135.2 L900.6,2137.2 L902.8,2139.3 L904.9,2141.5 L907.0,2143.8 L909.1,2146.0 L911.3,2148.0 L913.7,2149.6 L916.2,2150.9 L919.0,2151.8 L922.0,2152.6 L924.9,2153.5 L927.7,2154.6 L930.4,2155.9 L933.0,2157.3 L935.6,2158.9 L938.2,2160.5 L940.7,2162.1 L943.1,2163.9 L945.3,2165.9 L947.5,2168.0 L949.8,2170.0 L952.1,2171.8 L954.6,2173.3 L957.3,2174.6 L960.1,2175.8 L962.9,2176.9 L965.7,2177.9 L968.6,2178.7 L971.6,2179.4 L974.6,2180.0 L977.5,2180.7 L980.2,2181.6 L982.8,2183.0 L985.3,2184.9 L987.7,2186.7 L990.3,2188.1 L993.1,2188.9 L996.0,2189.4 L999.0,2189.9 L1002.0,2190.3 L1005.0,2190.9 L1007.9,2191.6 L1010.8,2192.4 L1013.7,2193.2 L1016.6,2193.9 L1019.6,2194.3 L1022.6,2194.6 L1025.5,2195.0 L1028.3,2196.0 L1030.9,2197.7 L1033.5,2199.3 L1036.2,2200.2 L1039.2,2200.6 L1042.2,2200.8 L1552.0,2200.8" stroke="#7030a0" stroke-width="13.7"/>
<path d="M307.8,2200.8 L670.2,2200.8" stroke="#ffc000" stroke-width="9.7" stroke-dasharray="18.7 18.5" stroke-dashoffset="-1.0" stroke-linecap="round"/>
<path d="M670.2,2200.8 L670.5,2188.4 L675.2,2045.7 L680.6,1861.7 L686.0,1696.0 L694.4,1530.3 L694.9,1487.1" stroke="#ffc000" stroke-width="9.7" stroke-dasharray="18.7 18.5" stroke-dashoffset="26.2" stroke-linecap="round"/>
<path d="M707.7,1388.5 L1019.4,1388.5" stroke="#ffc000" stroke-width="9.7" stroke-dasharray="18.7 18.5" stroke-dashoffset="0.0" stroke-linecap="round"/>
<path d="M1026.2,1429.0 L1027.2,1434.1 L1029.9,1450.7 L1033.2,1468.9 L1034.4,1487.0 L1036.0,1505.9 L1038.2,1524.1 L1039.7,1543.0 L1042.3,1561.1 L1044.0,1580.0 L1046.5,1586.8 L1048.8,1597.4 L1051.8,1616.3 L1055.6,1633.7" stroke="#ffc000" stroke-width="9.7" stroke-dasharray="18.7 18.5" stroke-dashoffset="-3.0" stroke-linecap="round"/>
<path d="M1073.0,1670.3 L1074.8,1688.5 L1076.2,1707.0 L1077.7,1725.6 L1078.7,1744.2 L1079.3,1763.8 L1080.4,1782.4 L1081.4,1800.9 L1082.4,1819.5 L1083.5,1838.1 L1084.3,1856.6 L1085.1,1875.2 L1085.9,1894.8 L1086.5,1912.3 L1087.6,1934.0 L1090.0,1976.7 L1092.7,2014.9 L1095.4,2052.0 L1097.9,2089.2 L1101.0,2126.3 L1105.1,2164.5 L1109.2,2192.3 L1111.3,2200.8 L1552.0,2200.8" stroke="#ffc000" stroke-width="9.7" stroke-dasharray="18.7 18.5" stroke-dashoffset="0.0" stroke-linecap="round"/>
<path d="M695.6,1470.5 L695.6,1454.3 M701.0,1451.5 L702.3,1442.2 M696.2,1435.8 L697.3,1426.0 M702.9,1424.1 L705.5,1407.3 M1004.6,1388.5 L1020.0,1388.5 L1023.9,1392.0 L1024.3,1413.5 M1055.6,1633.7 L1062.4,1639.8 L1069.2,1652.6 M1072.7,1666.0 L1073.0,1671.0" stroke="#ffc000" stroke-width="9.7" stroke-linecap="round"/>
<path d="M307.8,2200.8 L647.0,2200.8 L648.1,2200.5 L649.1,2174.1 L651.6,2192.0 L653.2,2167.9 L654.3,2137.0 L656.6,2163.0 L658.8,2132.8 L660.5,2146.0 L661.5,2122.5 L664.0,2099.8 L665.6,2066.1 L667.7,2037.3 L669.7,2006.3 L671.2,1961.0 L673.4,1934.1 L675.1,1876.3 L677.4,1849.5 L678.4,1820.0 L680.5,1747.0 L681.9,1691.2 L685.0,1661.3 L688.3,1643.8 L690.8,1617.0 L692.8,1581.9 L695.3,1546.8 L699.0,1538.6 L700.7,1520.0 L702.5,1452.8 L704.0,1388.5 L706.6,1388.5 L709.1,1388.5 L711.6,1388.5 L714.1,1388.5 L716.5,1388.5 L719.0,1388.5 L721.5,1388.5 L724.0,1388.5 L726.4,1388.5 L728.9,1388.5 L731.4,1388.5 L733.9,1388.5 L736.4,1388.5 L738.8,1388.5 L741.3,1388.5 L743.8,1388.5 L746.3,1411.2 L748.7,1394.2 L751.2,1411.2 L753.7,1388.5 L756.2,1408.0 L758.7,1434.8 L761.1,1426.7 L763.6,1430.7 L766.1,1463.2 L768.6,1447.0 L771.0,1418.6 L773.5,1397.4 L776.0,1404.7 L778.5,1408.0 L780.9,1409.6 L783.4,1412.1 L785.9,1429.1 L788.4,1446.2 L790.9,1432.4 L793.3,1422.6 L795.8,1424.2 L798.3,1432.4 L800.8,1442.9 L803.2,1430.7 L805.7,1437.2 L808.2,1399.9 L810.7,1412.9 L813.1,1425.1 L815.6,1425.1 L818.1,1388.5 L820.6,1388.5 L823.1,1388.5 L825.5,1388.5 L828.0,1413.7 L830.5,1388.5 L833.0,1388.5 L835.4,1388.5 L837.9,1388.5 L840.4,1388.5 L842.9,1388.5 L845.4,1388.5 L847.8,1407.2 L850.3,1388.5 L852.8,1419.4 L855.3,1417.7 L857.7,1390.1 L860.2,1404.7 L862.7,1388.5 L865.2,1403.1 L867.6,1388.5 L870.1,1388.5 L872.6,1428.3 L875.1,1416.1 L877.6,1408.0 L880.0,1427.5 L882.5,1449.4 L884.4,1483.8 L887.7,1535.4 L889.5,1566.3 L892.6,1602.5 L895.0,1627.3 L896.7,1637.0 L897.8,1657.5 L900.0,1661.7 L901.5,1681.3 L905.0,1705.0 L908.1,1723.6 L911.4,1735.9 L914.3,1747.7 L919.4,1747.3 L926.7,1743.6 L928.3,1730.8 L931.8,1725.6 L935.3,1712.2 L937.4,1693.6 L941.1,1676.1 L944.8,1657.5 L949.1,1647.5 L953.9,1642.6 L955.9,1595.2 L960.7,1587.0 L963.8,1562.2 L966.3,1538.5 L970.0,1527.1 L974.1,1508.5 L976.6,1502.4 L978.2,1473.5 L978.8,1442.5 L981.9,1397.8 L984.4,1411.6 L986.9,1446.7 L989.4,1460.5 L993.7,1463.2 L996.2,1464.5 L997.6,1494.1 L999.9,1502.4 L1002.0,1528.1 L1006.1,1535.4 L1008.8,1551.9 L1012.3,1561.0 L1015.4,1573.5 L1019.1,1578.5 L1023.6,1581.0 L1025.3,1605.0 L1027.7,1618.9 L1029.4,1639.5 L1032.4,1650.0 L1035.0,1668.9 L1036.0,1687.5 L1038.1,1693.6 L1041.2,1722.5 L1043.6,1748.3 L1047.6,1781.3 L1050.4,1811.2 L1055.0,1853.5 L1058.1,1887.6 L1061.5,1925.0 L1065.3,1971.6 L1070.5,2033.5 L1075.6,2085.0 L1081.4,2133.5 L1087.0,2170.7 L1092.7,2195.4 L1094.2,2200.8 L1552.0,2200.8" stroke="#0000ff" stroke-width="13.7"/>
</g>
<g font-family="'Liberation Sans', Arial, Helvetica, sans-serif" font-weight="bold" fill="#000">
<line x1="1135.5" y1="1401.1" x2="1252.7" y2="1401.1" stroke="#7f7f7f" stroke-width="14.2" stroke-linecap="round"/>
<text transform="translate(1267.60,1415.20) scale(0.9880,1.0200)" font-size="46.8">(f) HDDA</text>
<line x1="1135.5" y1="1477.9" x2="1252.7" y2="1477.9" stroke="#7030a0" stroke-width="14.2" stroke-linecap="round"/>
<text transform="translate(1267.60,1492.00) scale(0.9880,1.0200)" font-size="46.8">(g) APU</text>
<line x1="1136.2" y1="1554.8" x2="1252.6" y2="1554.8" stroke="#ffc000" stroke-width="9.9" stroke-dasharray="17.3 20.1" stroke-linecap="round"/>
<text transform="translate(1267.60,1569.00) scale(0.9880,1.0200)" font-size="46.8">(e) TPO</text>
<line x1="1135.5" y1="1632.3" x2="1252.7" y2="1632.3" stroke="#0000ff" stroke-width="14.2" stroke-linecap="round"/>
<text transform="translate(1267.60,1647.30) scale(0.9880,1.0200)" font-size="46.8">(h) PA-APU</text>
</g>
<g font-family="'Liberation Sans', Arial, Helvetica, sans-serif" font-weight="bold" fill="#000">
<text transform="translate(298.30,2300.70) scale(0.9680,1.0120)" font-size="67.3" text-anchor="middle">100</text>
<text transform="translate(546.02,2300.70) scale(0.9680,1.0120)" font-size="67.3" text-anchor="middle">200</text>
<text transform="translate(793.74,2300.70) scale(0.9680,1.0120)" font-size="67.3" text-anchor="middle">300</text>
<text transform="translate(1041.46,2300.70) scale(0.9680,1.0120)" font-size="67.3" text-anchor="middle">400</text>
<text transform="translate(1289.18,2300.70) scale(0.9680,1.0120)" font-size="67.3" text-anchor="middle">500</text>
<text transform="translate(1536.90,2300.70) scale(0.9680,1.0120)" font-size="67.3" text-anchor="middle">600</text>
<text transform="translate(232.80,2221.60) scale(0.9680,1.0120)" font-size="67.3" text-anchor="end">0</text>
<text transform="translate(232.80,2059.22) scale(0.9680,1.0120)" font-size="67.3" text-anchor="end">20</text>
<text transform="translate(232.80,1896.84) scale(0.9680,1.0120)" font-size="67.3" text-anchor="end">40</text>
<text transform="translate(232.80,1734.46) scale(0.9680,1.0120)" font-size="67.3" text-anchor="end">60</text>
<text transform="translate(232.80,1572.08) scale(0.9680,1.0120)" font-size="67.3" text-anchor="end">80</text>
<text transform="translate(232.80,1409.70) scale(0.9680,1.0120)" font-size="67.3" text-anchor="end">100</text>
</g>
<g font-family="'Liberation Sans', Arial, Helvetica, sans-serif" font-weight="bold" fill="#000">
<text transform="translate(0.00,2432.10) scale(0.9500,1.0000)" font-size="86.9"><tspan x="592.99 675.65 726.17 774.15 821.97 846.57 894.87 949.11 1005.85 1037.86" y="0">Wavelength</tspan><tspan x="1094.92" y="-2.6" font-size="79">(</tspan><tspan x="1123.61 1179.09" y="0">nm</tspan><tspan x="1260.04" y="-2.6" font-size="79">)</tspan></text>
<text transform="translate(89.50,2100.00) rotate(-90) scale(0.9500,1.0000)" font-size="86.0"><tspan x="-1.60 61.19 111.71 156.26 211.19 245.56 296.17 346.09 396.49 442.09 489.92" y="0">Absorbance </tspan><tspan x="525.51" y="-9.5" font-size="69.5">(</tspan><tspan x="551.83" y="0">%</tspan><tspan x="631.66" y="-9.5" font-size="69.5">)</tspan></text>
</g>
</g>
</svg>
</body>
</html>
